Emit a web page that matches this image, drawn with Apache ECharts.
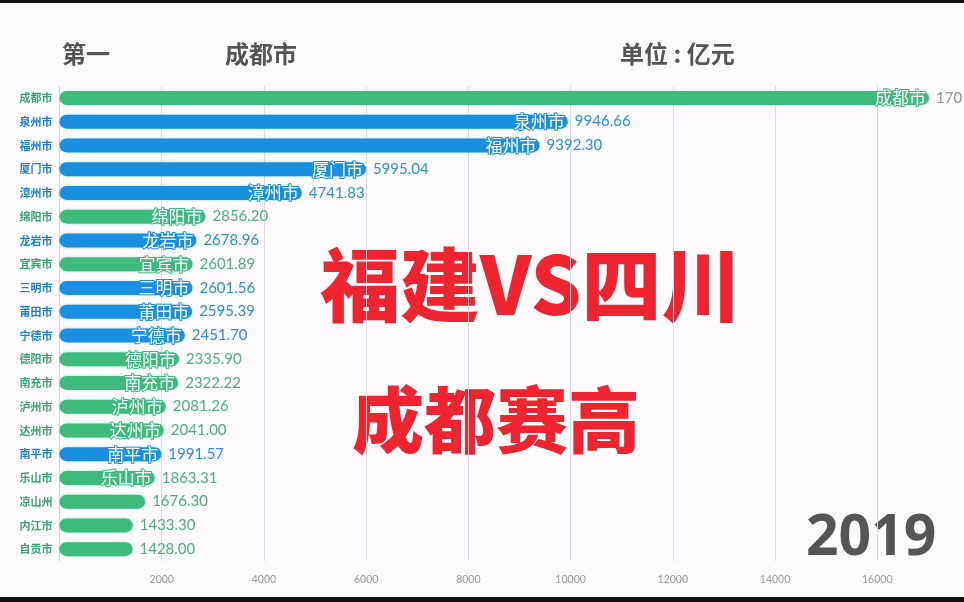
<!DOCTYPE html>
<html><head><meta charset="utf-8">
<script src="https://cdn.jsdelivr.net/npm/echarts@6/dist/echarts.min.js"></script>
<style>html,body{margin:0;padding:0;background:#fdfbfd;}#c{width:964px;height:602px;}</style>
</head><body><div id="c"></div>
<script>
const cities = ['成都市','泉州市','福州市','厦门市','漳州市','绵阳市','龙岩市','宜宾市','三明市','莆田市','宁德市','德阳市','南充市','泸州市','达州市','南平市','乐山市','凉山州','内江市','自贡市'];
const gdp = [17012.65,9946.66,9392.30,5995.04,4741.83,2856.20,2678.96,2601.89,2601.56,2595.39,2451.70,2335.90,2322.22,2081.26,2041.00,1991.57,1863.31,1676.30,1433.30,1428.00];
const province = ['川','闽','闽','闽','闽','川','闽','川','闽','闽','闽','川','川','川','川','闽','川','川','川','川'];
const xTicks = [2000,4000,6000,8000,10000,12000,14000,16000];
const year = '2019';
const leader = '成都市';

const colorOf = {'川':'#3dba7c','闽':'#1a8fe0'};
const labelColorOf = {'川':'#3aa574','闽':'#1d7fcf'};
const valueColorOf = {'川':'#4cae7e','闽':'#2b8fd6'};

const chart = echarts.init(document.getElementById('c'));
chart.setOption({
  backgroundColor:'#fdfbfd',
  animation:false,
  grid:{left:59.5, top:86, width:869.5, height:475, containLabel:false},
  xAxis:{type:'value', min:0, max:'dataMax', interval:2000,
    axisLine:{show:false}, axisTick:{show:false},
    splitLine:{show:true, showMinLine:false, showMaxLine:false, lineStyle:{color:'#dedae3', width:1}},
    axisLabel:{margin:13, fontSize:10.5, color:'#9a9a9a', fontFamily:'Lato',
      formatter:v=> xTicks.indexOf(v)>=0 ? String(v) : ''}
  },
  yAxis:{type:'category', data:cities, inverse:true,
    axisLine:{show:true, lineStyle:{color:'#d9cde3'}}, axisTick:{show:false},
    axisLabel:{margin:7, fontSize:11, fontWeight:'bold', fontFamily:'Noto Sans CJK SC',
      color:(v,i)=>labelColorOf[province[i]]}
  },
  series:[{
    type:'bar', barWidth:14,
    data:gdp.map((v,i)=>({
      value:v,
      itemStyle:{color:colorOf[province[i]], borderRadius:7, shadowColor:'rgba(120,220,230,0.6)', shadowBlur:3},
      label:{color: i===0 ? '#8a9a94' : valueColorOf[province[i]]}
    })),
    label:{show:true, position:'right', distance:7, fontSize:15, fontFamily:'Lato',
      formatter:p=>p.value.toFixed(2)}
  },{
    type:'bar', barWidth:14, barGap:'-100%', silent:true,
    data:gdp.map((v,i)=>({value:v, itemStyle:{color:'transparent'}, label:{textBorderColor:colorOf[province[i]]}})),
    label:{show:true, position:'insideRight', distance:3, fontSize:17, fontFamily:'Noto Sans CJK SC',
      color:'#ffffff', textBorderWidth:2,
      formatter:p=> p.value>=1800 ? cities[p.dataIndex] : ''}
  }],
  graphic:[
    {type:'rect', shape:{x:0,y:0,width:964,height:3}, style:{fill:'#111'}},
    {type:'rect', shape:{x:0,y:597,width:964,height:5}, style:{fill:'#111'}},
    {type:'text', left:62, top:42, style:{text:'第一', fontSize:24, fontWeight:'bold', fill:'#555', fontFamily:'Noto Sans CJK SC'}},
    {type:'text', left:225, top:42, style:{text:leader, fontSize:24, fontWeight:'bold', fill:'#555', fontFamily:'Noto Sans CJK SC'}},
    {type:'text', left:620, top:42, style:{text:'单位 : 亿元', fontSize:24, fontWeight:'bold', fill:'#555', fontFamily:'Noto Sans CJK SC'}},
    {type:'text', left:320, top:245, style:{text:'福建VS四川', fontSize:80, fontWeight:900, fill:'#ee2430', fontFamily:'Noto Sans CJK SC'}},
    {type:'text', left:352, top:384, style:{text:'成都赛高', fontSize:72, fontWeight:900, fill:'#ee2430', fontFamily:'Noto Sans CJK SC'}},
    {type:'text', left:806, top:510, style:{text:year, fontSize:57, fontWeight:'bold', fill:'#555', fontFamily:'Open Sans'}}
  ]
});
</script></body></html>
